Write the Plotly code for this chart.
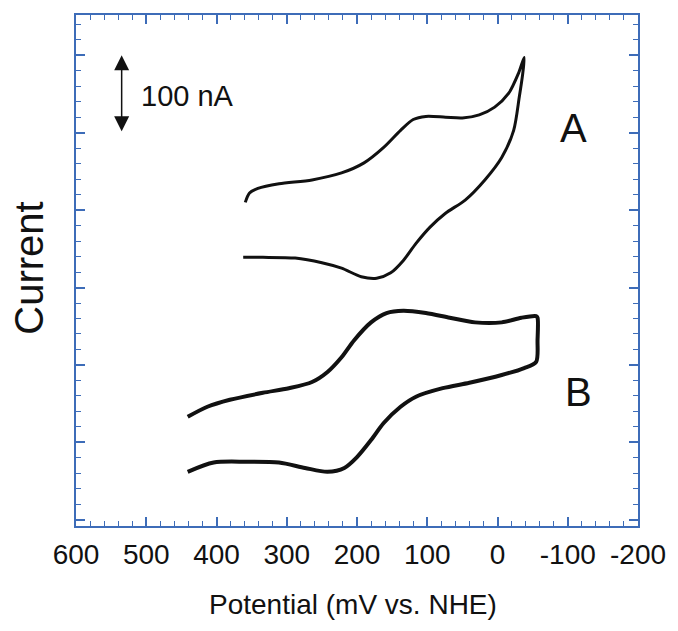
import plotly.graph_objects as go

# Curve A (potential in mV vs NHE, current in nA, arbitrary offset)
a_potential = [359, 353, 341, 311, 264, 222, 190, 162, 138, 120, 102, 74, 50, 26, 4, -16, -30, -38,
               -36, -31, -23, -6, 18, 46, 74, 96, 116, 134, 152, 172, 194, 222, 250, 288, 334, 362]
a_current = [410, 422, 428, 434, 439, 448, 461, 481, 503, 517, 521, 520, 519, 523, 533, 551, 577, 597,
             577, 546, 503, 468, 439, 413, 396, 378, 357, 335, 319, 312, 314, 325, 332, 338, 339, 339]

# Curve B
b_potential = [441, 413, 381, 334, 297, 264, 242, 222, 204, 180, 158, 134, 102, 68, 32, -6, -34, -55, -57,
               -57, -55, -38, -6, 40, 78, 116, 138, 162, 180, 200, 218, 242, 274, 311, 358, 404, 441]
b_current = [133, 146, 155, 164, 170, 178, 191, 210, 232, 255, 267, 270, 267, 261, 255, 255, 261, 263, 261,
             232, 204, 196, 187, 177, 170, 159, 146, 125, 103, 81, 67, 62, 67, 74, 75, 74, 62]

x_tickvals = [600, 500, 400, 300, 200, 100, 0, -100, -200]
x_ticktext = ["600", "500", "400", "300", "200", "100", "0", "-100", "-200"]
y_tickvals = [0, 100, 200, 300, 400, 500, 600]

frame_color = "#3d6cb8"
font_family = "Arial, Liberation Sans, sans-serif"

fig = go.Figure()
fig.add_trace(go.Scatter(x=a_potential, y=a_current, mode="lines",
                         line=dict(color="#111111", width=3, shape="spline", smoothing=0.8),
                         showlegend=False, hoverinfo="skip"))
fig.add_trace(go.Scatter(x=b_potential, y=b_current, mode="lines",
                         line=dict(color="#111111", width=4, shape="spline", smoothing=0.8),
                         showlegend=False, hoverinfo="skip"))

axis_common = dict(
    showgrid=False, zeroline=False, showline=True, linecolor=frame_color, linewidth=2,
    mirror="allticks", ticks="inside", ticklen=9, tickwidth=1.5, tickcolor=frame_color,
)

fig.update_xaxes(
    range=[600, -200], tickvals=x_tickvals, ticktext=x_ticktext,
    tickfont=dict(family=font_family, size=28, color="#111111"),
    ticklabelstandoff=2,
    minor=dict(ticks="inside", ticklen=5, tickwidth=1.2, tickcolor=frame_color, dtick=20, tick0=0),
    **axis_common,
)
fig.update_yaxes(
    range=[-8, 652], tickvals=y_tickvals, showticklabels=False,
    minor=dict(ticks="inside", ticklen=5, tickwidth=1.2, tickcolor=frame_color, dtick=20, tick0=0),
    **axis_common,
)

# scale bar (100 nA)
fig.add_annotation(x=535, y=600, ax=535, ay=500, xref="x", yref="y", axref="x", ayref="y",
                   text="", showarrow=True, arrowhead=2, arrowside="end+start",
                   arrowsize=2, arrowwidth=1.5, arrowcolor="#111111")
fig.add_annotation(x=510, y=547, xref="x", yref="y", text="100 nA", showarrow=False,
                   xanchor="left", yanchor="middle",
                   font=dict(family=font_family, size=29, color="#111111"))
fig.add_annotation(x=-108, y=506, xref="x", yref="y", text="A", showarrow=False,
                   font=dict(family=font_family, size=40, color="#111111"))
fig.add_annotation(x=-115, y=165, xref="x", yref="y", text="B", showarrow=False,
                   font=dict(family=font_family, size=40, color="#111111"))

# axis titles
fig.add_annotation(x=0.492, y=-0.153, xref="paper", yref="paper", text="Potential (mV vs. NHE)",
                   showarrow=False, xanchor="center", yanchor="middle",
                   font=dict(family=font_family, size=28, color="#111111"))
fig.add_annotation(x=-0.084, y=0.505, xref="paper", yref="paper", text="Current",
                   showarrow=False, textangle=-90, xanchor="center", yanchor="middle",
                   font=dict(family=font_family, size=40, color="#111111"))

fig.update_layout(
    width=678, height=631,
    margin=dict(l=76, r=29, t=15, b=105),
    plot_bgcolor="white", paper_bgcolor="white",
    showlegend=False,
)

fig.write_html("out.html", config={"displayModeBar": False},
               post_script="document.body.style.margin='0px';document.body.style.overflow='hidden';")
